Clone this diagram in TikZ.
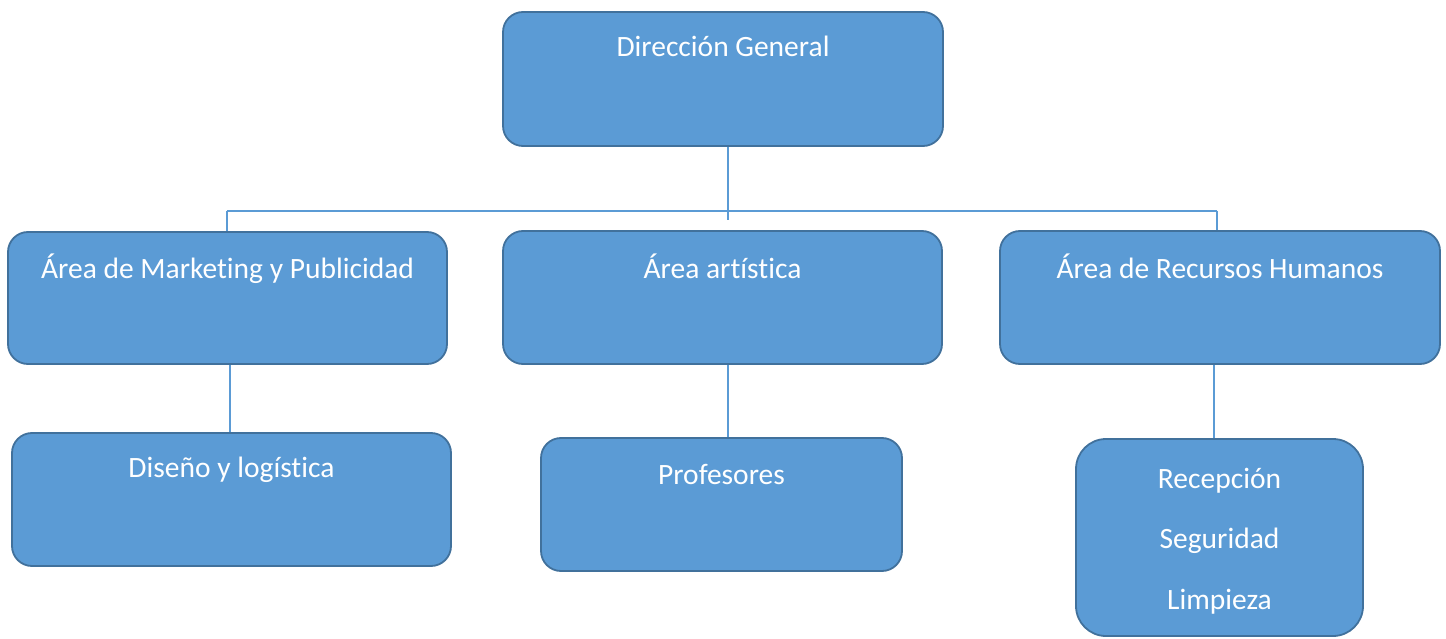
\documentclass[tikz,border=0pt]{standalone}
\usepackage{fontspec}
\setmainfont{Carlito}[Ligatures={NoCommon}]
\definecolor{boxfill}{HTML}{5B9BD5}
\definecolor{boxline}{HTML}{41719C}
\definecolor{conn}{HTML}{5B9BD5}
\begin{document}
\begin{tikzpicture}[x=1pt,y=-1pt,
  orgbox/.style={draw=boxline,fill=boxfill,line width=1.8pt,rounded corners=20pt,inner sep=0pt},
  lbl/.style={anchor=base,text=white,font=\fontsize{29.5}{35}\selectfont,inner sep=0pt},
  link/.style={draw=conn,line width=2pt}]
\useasboundingbox (0,0) rectangle (1446,639);
% boxes
\node[orgbox,minimum width=440pt,minimum height=134pt] (dg) at (723,79) {};
\node[orgbox,minimum width=439pt,minimum height=132pt] (mk) at (227.5,298) {};
\node[orgbox,minimum width=439pt,minimum height=133pt] (ar) at (722.5,297.5) {};
\node[orgbox,minimum width=440pt,minimum height=133pt] (rh) at (1220,297.5) {};
\node[orgbox,minimum width=439pt,minimum height=133pt] (di) at (231.5,499.5) {};
\node[orgbox,minimum width=361pt,minimum height=133pt] (pr) at (721.5,504.5) {};
\node[orgbox,rounded corners=30pt,minimum width=287pt,minimum height=197pt] (rc) at (1219.5,537.5) {};
% labels
\node[lbl] (tdg) at (723,57) {Dirección General};
\node[lbl] (tmk) at (227.5,279) {Área de Marketing y Publicidad};
\node[lbl] (tar) at (722.5,279) {Área artística};
\node[lbl] (trh) at (1220,279) {Área de Recursos Humanos};
\node[lbl] (tdi) at (231.5,477) {Diseño y logística};
\node[lbl] (tpr) at (721.5,484) {Profesores};
\node[lbl] (trc1) at (1219.5,488) {Recepción};
\node[lbl] (trc2) at (1219.5,548) {Seguridad};
\node[lbl] (trc3) at (1219.5,609) {Limpieza};
% connectors
\coordinate (bl) at (227,211);
\coordinate (br) at (1217,211);
\coordinate (tc) at (728,220);
\path[link] (dg.south -| tc) -- (tc);
\path[link] (bl) -- (br);
\path[link] (bl) -- (bl |- mk.north);
\path[link] (br) -- (br |- rh.north);
\coordinate (x1) at (230,0);
\coordinate (x2) at (728,0);
\coordinate (x3) at (1214,0);
\path[link] (mk.south -| x1) -- (di.north -| x1);
\path[link] (ar.south -| x2) -- (pr.north -| x2);
\path[link] (rh.south -| x3) -- (rc.north -| x3);
\end{tikzpicture}
\end{document}
